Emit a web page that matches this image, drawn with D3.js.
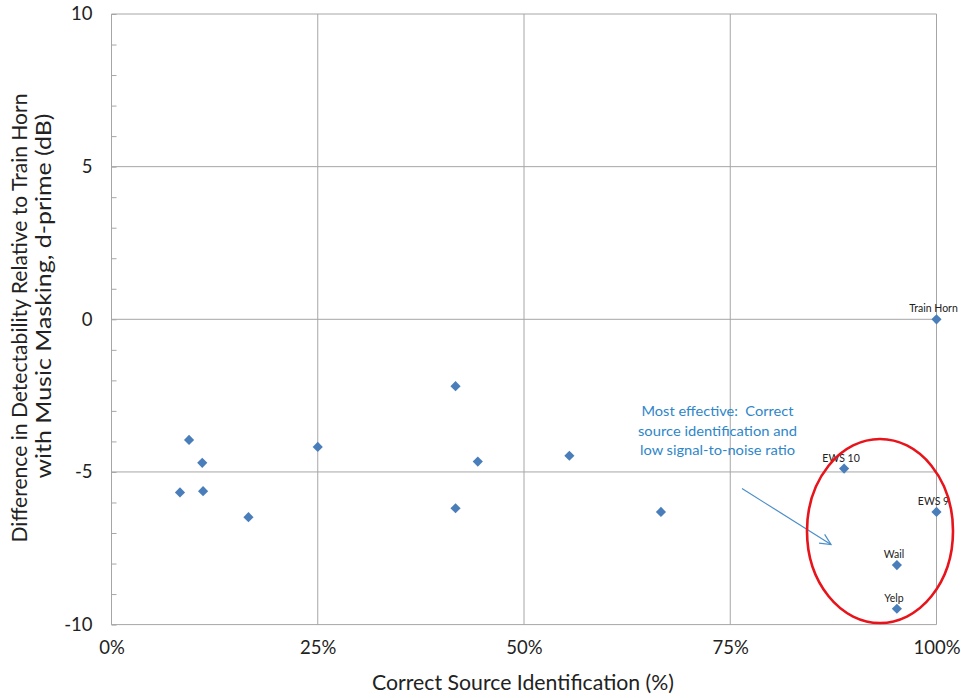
<!DOCTYPE html>
<html><head><meta charset="utf-8">
<script src="https://cdn.jsdelivr.net/npm/d3@7"></script>
<style>body{margin:0;background:#fff}svg{display:block}text{font-family:Lato,"Open Sans",sans-serif;white-space:pre}</style>
</head><body>
<svg id="c" width="961" height="698"></svg>
<script>
const xValues = [8.3, 9.4, 11.0, 11.1, 16.6, 25.0, 41.7, 41.7, 44.4, 55.5, 66.6, 88.8, 100, 95.2, 95.2, 100];
const yValues = [-5.67, -3.95, -4.70, -5.63, -6.48, -4.18, -2.19, -6.19, -4.66, -4.47, -6.31, -4.89, -6.31, -8.05, -9.48, 0];
const pointLabels = ["", "", "", "", "", "", "", "", "", "", "", "EWS 10", "EWS 9", "Wail", "Yelp", "Train Horn"];
const xTicks = [0, 25, 50, 75, 100];
const yTicks = [-10, -5, 0, 5, 10];
const xTitle = "Correct Source Identification (%)";
const yTitle = ["Difference in Detectability Relative to Train Horn", "with Music Masking, d-prime (dB)"];
const noteLines = ["Most effective:  Correct", "source identification and", "low signal-to-noise ratio"];

const svg = d3.select("#c");
const L = 111.5, R = 936.5, T = 14, B = 624.6;
const x = d3.scaleLinear().domain([0, 100]).range([L, R]);
const y = d3.scaleLinear().domain([-10, 10]).range([B, T]);
const grid = "#a6a6a6";

// gridlines
svg.append("g").selectAll("line").data(yTicks).join("line")
  .attr("x1", L).attr("x2", R).attr("y1", d => y(d)).attr("y2", d => y(d))
  .attr("stroke", grid).attr("stroke-width", 1);
svg.append("g").selectAll("line").data(xTicks).join("line")
  .attr("y1", T).attr("y2", B).attr("x1", d => x(d)).attr("x2", d => x(d))
  .attr("stroke", grid).attr("stroke-width", 1);

// y axis with minor ticks inside
const yAxis = d3.axisRight(y).tickValues(d3.range(-10, 10.5, 1)).tickSize(5).tickFormat("");
const ga = svg.append("g").attr("transform", `translate(${L},0)`).call(yAxis);
ga.selectAll("line").attr("stroke", grid);
ga.select(".domain").attr("stroke", grid).attr("d", `M0,${T}V${B}`);

// y tick labels
const yl = d3.axisLeft(y).tickValues(yTicks).tickSize(0).tickPadding(19).tickFormat(d => String(d));
const gy = svg.append("g").attr("transform", `translate(${L},0)`).call(yl);
gy.select(".domain").remove();
gy.selectAll("text").attr("font-size", 18.5).attr("fill", "#222").attr("font-family", "Lato");

const xl = d3.axisBottom(x).tickValues(xTicks).tickSize(0).tickPadding(16).tickFormat(d => d + "%");
const gx = svg.append("g").attr("transform", `translate(0,${B})`).call(xl);
gx.select(".domain").remove();
gx.selectAll("text").attr("font-size", 18.5).attr("fill", "#222").attr("font-family", "Lato");

// titles
svg.append("text").attr("x", 523).attr("y", 689.5).attr("text-anchor", "middle")
  .attr("font-size", 21.3).attr("fill", "#222")
  .attr("textLength", 302).attr("lengthAdjust", "spacingAndGlyphs").text(xTitle);
const yTitleCenters = [318, 296], yTitleLens = [449, 365];
yTitle.forEach((t, i) => {
  svg.append("text").attr("transform", `translate(${26.5 + i * 24},${yTitleCenters[i]}) rotate(-90)`)
    .attr("text-anchor", "middle").attr("font-size", 20.4).attr("fill", "#222")
    .attr("textLength", yTitleLens[i]).attr("lengthAdjust", "spacingAndGlyphs").text(t);
});

// points
const sym = d3.symbol().type(d3.symbolDiamond2).size(66);
svg.append("g").selectAll("path").data(xValues).join("path")
  .attr("transform", (d, i) => `translate(${x(d)},${y(yValues[i])})`)
  .attr("d", sym).attr("fill", "#4a7ebb");

// point labels
svg.append("g").selectAll("text").data(pointLabels).join("text")
  .attr("x", (d, i) => x(xValues[i]) - 3).attr("y", (d, i) => y(yValues[i]) - 7)
  .attr("text-anchor", "middle").attr("font-size", 10.5).attr("fill", "#222").text(d => d);

// annotation
const noteLens = [152, 159, 155];
svg.append("g").selectAll("text").data(noteLines).join("text")
  .attr("x", 717.5).attr("y", (d, i) => 416 + i * 19.5).attr("text-anchor", "middle")
  .attr("font-size", 14.2).attr("fill", "#2e86c9")
  .attr("textLength", (d, i) => noteLens[i]).attr("lengthAdjust", "spacingAndGlyphs").text(d => d);

// arrow
const ax1 = 742, ay1 = 488.5, ax2 = 831, ay2 = 544.5;
svg.append("line").attr("x1", ax1).attr("y1", ay1).attr("x2", ax2).attr("y2", ay2)
  .attr("stroke", "#4a8ec9").attr("stroke-width", 1.2);
const ang = Math.atan2(ay2 - ay1, ax2 - ax1);
const hl = 12, ha = 0.45;
svg.append("path").attr("d",
  `M${ax2 - hl * Math.cos(ang - ha)},${ay2 - hl * Math.sin(ang - ha)}L${ax2},${ay2}L${ax2 - hl * Math.cos(ang + ha)},${ay2 - hl * Math.sin(ang + ha)}`)
  .attr("fill", "none").attr("stroke", "#4a8ec9").attr("stroke-width", 1.2);

// ellipse
svg.append("ellipse").attr("cx", 880).attr("cy", 531).attr("rx", 73).attr("ry", 92)
  .attr("fill", "none").attr("stroke", "#e8141b").attr("stroke-width", 2.6);
</script>
</body></html>
